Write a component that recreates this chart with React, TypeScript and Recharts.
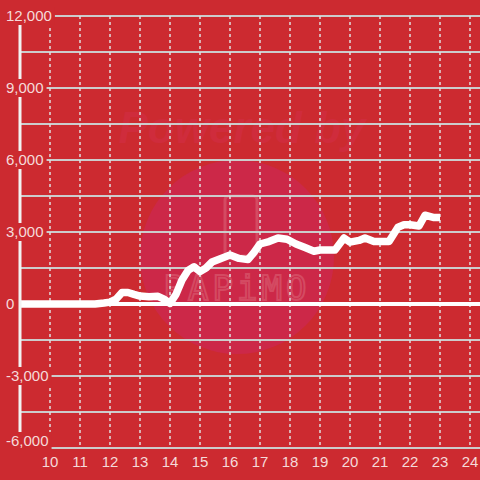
import React from 'react';
import { LineChart, Line, XAxis, YAxis, CartesianGrid, ReferenceLine } from 'recharts';

const hours = [9.0, 11.5, 11.8, 12.0, 12.2, 12.4, 12.6, 12.8, 13.0, 13.3, 13.6, 13.8, 14.0, 14.2, 14.4, 14.6, 14.8, 15.0, 15.2, 15.4, 15.7, 16.0, 16.3, 16.6, 16.8, 17.0, 17.3, 17.6, 17.9, 18.2, 18.5, 18.8, 19.0, 19.3, 19.5, 19.8, 20.0, 20.3, 20.5, 20.8, 21.0, 21.3, 21.6, 21.8, 22.0, 22.3, 22.5, 22.8, 23.0];
const values = [0, 0, 40, 80, 200, 480, 480, 400, 330, 300, 320, 200, 30, 400, 1000, 1400, 1550, 1350, 1500, 1750, 1900, 2040, 1900, 1850, 2150, 2500, 2600, 2750, 2700, 2500, 2350, 2200, 2250, 2250, 2250, 2750, 2580, 2650, 2750, 2600, 2600, 2600, 3200, 3300, 3300, 3250, 3700, 3600, 3600];
const xTicks = [10, 11, 12, 13, 14, 15, 16, 17, 18, 19, 20, 21, 22, 23, 24];
const yTicks = [-6000, -3000, 0, 3000, 6000, 9000, 12000];
const yGrid = [-6000, -4500, -3000, -1500, 1500, 3000, 4500, 6000, 7500, 9000, 10500, 12000];

const data = hours.map((h, i) => ({ h, v: values[i] }));

const BG = '#CC2A30';
const TXT = '#F5DADA';
const FONT = '"Liberation Sans", Arial, sans-serif';

const fmt = (n: number) => n.toLocaleString('en-US');
const textW = (s: string) => {
  let w = 0;
  for (const c of s) w += c === ',' ? 4.2 : c === '-' ? 5 : 8.34;
  return w;
};

const YTick = (props: any) => {
  const { y, payload, index } = props;
  const label = fmt(payload.value);
  const w = textW(label);
  const cy = index === 0 ? y - 7 : y;
  return (
    <g>
      <rect x={3} y={cy - 9} width={w + 6} height={18} fill={BG} />
      <text x={6} y={cy} dy="0.35em" fill={TXT} fontSize={15} fontFamily={FONT}>
        {label}
      </text>
    </g>
  );
};

export default function App() {
  return (
    <div style={{ position: 'fixed', left: 0, top: 0, width: 480, height: 480, background: BG, overflow: 'hidden' }}>
      <svg width={480} height={480} style={{ position: 'absolute', left: 0, top: 0 }}>
        <text x={242} y={143} textAnchor="middle" fontSize={44} fontWeight="bold" fontStyle="italic" fontFamily={FONT} fill="#CF2C3C">
          Powered by
        </text>
        <circle cx={237} cy={257} r={97} fill="#CC2848" />
        <rect x={225} y={196} width={32} height={60} rx={4} fill="none" stroke="#D44A62" strokeWidth={3} />
        <text x={237} y={300} textAnchor="middle" fontSize={34} fontFamily='"DejaVu Sans Mono", monospace' fill="none" stroke="#D44A62" strokeWidth={2} letterSpacing={4}>
          PAPiMO
        </text>
      </svg>
      <div style={{ position: 'absolute', left: 0, top: 0 }}>
        <LineChart width={480} height={480} data={data} margin={{ top: 16, right: 0, bottom: 2, left: 0 }}>
          <CartesianGrid horizontal={true} vertical={false} horizontalValues={yGrid} stroke="#CCCCCC" strokeWidth={2} strokeDasharray="" />
          <CartesianGrid horizontal={false} vertical={true} verticalValues={xTicks} stroke="#E0E0E0" strokeWidth={1.5} strokeDasharray="3 3" />
          <XAxis
            dataKey="h"
            type="number"
            domain={[9, 24.3333]}
            allowDataOverflow
            ticks={xTicks}
            axisLine={false}
            tickLine={false}
            height={30}
            tick={{ fill: TXT, fontSize: 15, fontFamily: FONT }}
            interval={0}
          />
          <YAxis
            type="number"
            domain={[-6000, 12000]}
            allowDataOverflow
            ticks={yTicks}
            width={20}
            axisLine={{ stroke: '#F2F2F2', strokeWidth: 3 }}
            tickLine={false}
            tick={YTick}
            interval={0}
          />
          <ReferenceLine y={0} stroke="#FFFFFF" strokeWidth={4} />
          <Line type="linear" dataKey="v" stroke="#FFFFFF" strokeWidth={7.5} dot={false} isAnimationActive={false} strokeLinejoin="round" strokeLinecap="butt" />
        </LineChart>
      </div>
    </div>
  );
}
